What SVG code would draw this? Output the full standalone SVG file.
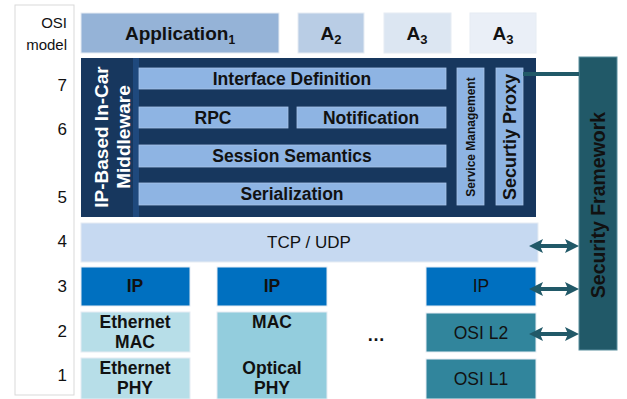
<svg xmlns="http://www.w3.org/2000/svg" width="627" height="399" viewBox="0 0 627 399">
<defs>
<style>
text{font-family:"Liberation Sans",Arial,sans-serif;fill:#111;}
.b{font-weight:bold;}
.c{text-anchor:middle;}
.r{text-anchor:end;}
.num{font-size:17px;text-anchor:end;}
.lbl{font-size:17.5px;}
.inner{fill:#8eb4e3;stroke:#a9c4e8;stroke-width:0.8;}
.box{stroke:#e6ecf3;stroke-width:1;}
.arrow{stroke:#215968;stroke-width:4;fill:none;}
</style>
<marker id="ah" viewBox="0 0 14 14" refX="9" refY="7" markerWidth="14" markerHeight="14" markerUnits="userSpaceOnUse" orient="auto-start-reverse">
<path d="M0,0 L14,7 L0,14 L3,7 z" fill="#215968"/>
</marker>
</defs>
<rect width="627" height="399" fill="#ffffff"/>

<g id="osi-model">
<rect x="15" y="5" width="59" height="390" fill="#ffffff" stroke="#d9d9d9" stroke-width="1"/>
<text class="r" x="67" y="28" font-size="15">OSI</text>
<text class="r" x="67" y="50" font-size="15">model</text>
<text class="num" x="67" y="91">7</text>
<text class="num" x="67" y="135">6</text>
<text class="num" x="67" y="203">5</text>
<text class="num" x="67" y="247">4</text>
<text class="num" x="67" y="292">3</text>
<text class="num" x="67" y="337">2</text>
<text class="num" x="67" y="381">1</text>
</g>

<g id="app1">
<rect class="box" x="81" y="13" width="198" height="40" fill="#95b3d7"/>
<text class="b c" x="180" y="40" font-size="19">Application<tspan font-size="12" dy="4">1</tspan></text>
</g>
<g id="app2">
<rect class="box" x="298" y="13" width="66" height="40" fill="#b9cde5"/>
<text class="b c" x="331" y="40" font-size="19">A<tspan font-size="13" dy="4">2</tspan></text>
</g>
<g id="app3a">
<rect class="box" x="384" y="13" width="67" height="40" fill="#dce6f2"/>
<text class="b c" x="417" y="40" font-size="19">A<tspan font-size="13" dy="4">3</tspan></text>
</g>
<g id="app3b">
<rect class="box" x="470" y="13" width="66" height="40" fill="#eaeff7"/>
<text class="b c" x="503" y="40" font-size="19">A<tspan font-size="13" dy="4">3</tspan></text>
</g>

<g id="middleware">
<rect x="81" y="58" width="455" height="159" fill="#17375e"/>
<rect x="133" y="58" width="6" height="159" fill="#1f497d"/>
<g transform="translate(101,137) rotate(-90)">
<text class="b c" x="0" y="6.5" font-size="19" style="fill:#ffffff">IP-Based In-Car</text>
</g>
<g transform="translate(123,137) rotate(-90)">
<text class="b c" x="0" y="6.5" font-size="19" style="fill:#ffffff">Middleware</text>
</g>
</g>

<g id="interface-definition">
<rect class="inner" x="139" y="68" width="307" height="21"/>
<text class="b c lbl" x="292" y="85">Interface Definition</text>
</g>
<g id="rpc">
<rect class="inner" x="139" y="107" width="149" height="21"/>
<text class="b c lbl" x="213" y="124">RPC</text>
</g>
<g id="notification">
<rect class="inner" x="297" y="107" width="149" height="21"/>
<text class="b c lbl" x="371" y="124">Notification</text>
</g>
<g id="session-semantics">
<rect class="inner" x="139" y="145" width="307" height="22"/>
<text class="b c lbl" x="292" y="162">Session Semantics</text>
</g>
<g id="serialization">
<rect class="inner" x="139" y="183" width="307" height="22"/>
<text class="b c lbl" x="292" y="200">Serialization</text>
</g>
<g id="service-management">
<rect class="inner" x="457" y="68" width="27" height="137"/>
<g transform="translate(470.5,137) rotate(-90)">
<text class="b c" x="0" y="4.5" font-size="12">Service Management</text>
</g>
</g>
<g id="security-proxy">
<rect class="inner" x="496" y="68" width="27" height="137"/>
<g transform="translate(509.5,137) rotate(-90)">
<text class="b c" x="0" y="6.5" font-size="18">Securtiy Proxy</text>
</g>
</g>

<g id="security-framework">
<rect x="579" y="57" width="38" height="293" fill="#215968" stroke="#5a8f9e" stroke-width="1"/>
<g transform="translate(598,205) rotate(-90)">
<text class="b c" x="0" y="7" font-size="19.5">Security Framework</text>
</g>
</g>

<g id="tcp-udp">
<rect class="box" x="81" y="223" width="457" height="39" fill="#c6d9f1"/>
<text class="c" x="309" y="248" font-size="17">TCP / UDP</text>
</g>

<g id="ip1">
<rect class="box" x="81" y="267" width="109" height="39" fill="#0070c0"/>
<text class="b c lbl" x="135" y="292">IP</text>
</g>
<g id="ip2">
<rect class="box" x="217" y="267" width="110" height="39" fill="#0070c0"/>
<text class="b c lbl" x="272" y="292">IP</text>
</g>
<g id="ip3">
<rect class="box" x="426" y="267" width="110" height="39" fill="#0070c0"/>
<text class="c lbl" x="481" y="292">IP</text>
</g>

<g id="ethernet-mac">
<rect class="box" x="81" y="312" width="109" height="40" fill="#b7dee8"/>
<text class="b c lbl" x="135" y="328">Ethernet</text>
<text class="b c lbl" x="135" y="348">MAC</text>
</g>
<g id="ethernet-phy">
<rect class="box" x="81" y="358" width="109" height="41" fill="#b7dee8"/>
<text class="b c lbl" x="135" y="374">Ethernet</text>
<text class="b c lbl" x="135" y="394">PHY</text>
</g>
<g id="mac-optical-phy">
<rect class="box" x="217" y="312" width="110" height="87" fill="#93cddd"/>
<text class="b c lbl" x="272" y="328">MAC</text>
<text class="b c lbl" x="272" y="374">Optical</text>
<text class="b c lbl" x="272" y="394">PHY</text>
</g>
<g id="ellipsis">
<text class="b c" x="376" y="341" font-size="18">…</text>
</g>
<g id="osi-l2">
<rect class="box" x="426" y="313" width="110" height="39" fill="#31859c"/>
<text class="c lbl" x="481" y="339">OSI L2</text>
</g>
<g id="osi-l1">
<rect class="box" x="426" y="359" width="110" height="40" fill="#31859c"/>
<text class="c lbl" x="481" y="385">OSI L1</text>
</g>

<g id="connectors">
<line x1="523" y1="74" x2="579" y2="74" stroke="#215968" stroke-width="4"/>
<line class="arrow" x1="534" y1="246" x2="574" y2="246" marker-start="url(#ah)" marker-end="url(#ah)"/>
<line class="arrow" x1="534" y1="289" x2="574" y2="289" marker-start="url(#ah)" marker-end="url(#ah)"/>
<line class="arrow" x1="534" y1="334" x2="574" y2="334" marker-start="url(#ah)" marker-end="url(#ah)"/>
</g>
</svg>
